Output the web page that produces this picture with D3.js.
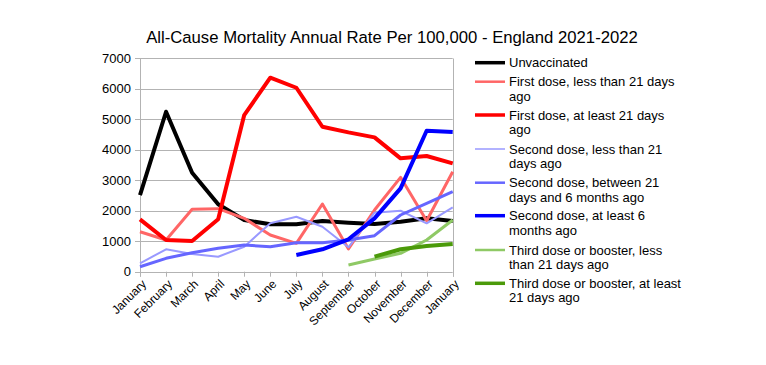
<!DOCTYPE html>
<html>
<head>
<meta charset="utf-8">
<script src="https://cdn.jsdelivr.net/npm/d3@7"></script>
<style>
  body { margin: 0; background: #fff; }
  svg { font-family: "Liberation Sans", Arial, sans-serif; }
</style>
</head>
<body>
<svg id="chart" width="766" height="365"></svg>
<script>
const months = ["January","February","March","April","May","June","July","August","September","October","November","December","January"];
const yTicks = [0,1000,2000,3000,4000,5000,6000,7000];

const unvaccinated   = [2515,5246,3246,2214,1696,1554,1554,1663,1607,1564,1640,1750,1663];
const firstLess21    = [1312,1040,2046,2066,1750,1203,930,2220,745,2023,3095,1673,3280];
const firstAtLeast21 = [1718,1040,1007,1718,5139,6363,6034,4755,4570,4407,3718,3794,3555];
const secondLess21   = [275,735,580,492,820,1587,1804,1476,800,1935,2000,1587,2112];
const secondMid      = [164,439,623,767,875,820,951,951,1040,1181,1860,2243,2624];
const secondAtLeast6 = [null,null,null,null,null,null,548,735,1063,1751,2735,4625,4582];
const thirdLess21    = [null,null,null,null,null,null,null,null,220,417,603,1040,1696];
const thirdAtLeast21 = [null,null,null,null,null,null,null,null,null,492,735,843,908];

const seriesNames = [
  ["Unvaccinated"],
  ["First dose, less than 21 days","ago"],
  ["First dose, at least 21 days","ago"],
  ["Second dose, less than 21","days ago"],
  ["Second dose, between 21","days and 6 months ago"],
  ["Second dose, at least 6","months ago"],
  ["Third dose or booster, less","than 21 days ago"],
  ["Third dose or booster, at least","21 days ago"]
];
const seriesValues = [unvaccinated, firstLess21, firstAtLeast21, secondLess21, secondMid, secondAtLeast6, thirdLess21, thirdAtLeast21];
const seriesColors = ["#000000","#ff6666","#ff0000","#9999ff","#6666ff","#0000ff","#8fc965","#4b9a0a"];
const seriesWidths = [4,3,4,2,3,4,3,4];

const svg = d3.select("#chart");
const pL = 140, pR = 452.7, pT = 58.3, pB = 271.7;

const x = d3.scalePoint().domain(d3.range(months.length)).range([pL, pR]);
const y = d3.scaleLinear().domain([0,7000]).range([pB, pT]);

// title
svg.append("text").attr("x", 392).attr("y", 43).attr("text-anchor","middle")
  .attr("font-size", 16.7).attr("fill","#000")
  .text("All-Cause Mortality Annual Rate Per 100,000 - England 2021-2022");

// gridlines
svg.append("g").selectAll("line").data(yTicks).join("line")
  .attr("x1", pL - 5).attr("x2", pR)
  .attr("y1", d => Math.round(y(d)) + 0.5).attr("y2", d => Math.round(y(d)) + 0.5)
  .attr("stroke", "#b3b3b3").attr("stroke-width", 1);
// left & right vertical lines
[pL, pR].forEach(xx => {
  svg.append("line").attr("x1", Math.round(xx)+0.5).attr("x2", Math.round(xx)+0.5)
    .attr("y1", Math.round(y(7000))+0.5).attr("y2", pB + 5)
    .attr("stroke", "#b3b3b3");
});
// x ticks
svg.append("g").selectAll("line").data(d3.range(months.length)).join("line")
  .attr("x1", d => Math.round(x(d))+0.5).attr("x2", d => Math.round(x(d))+0.5)
  .attr("y1", pB).attr("y2", pB + 5)
  .attr("stroke", "#b3b3b3");

// y labels
svg.append("g").selectAll("text").data(yTicks).join("text")
  .attr("x", pL - 9).attr("y", d => y(d)).attr("dy", "0.35em")
  .attr("text-anchor", "end").attr("font-size", 13).attr("fill", "#000")
  .text(d => d);

// x labels
svg.append("g").selectAll("text").data(months).join("text")
  .attr("transform", (d,i) => `translate(${x(i)+4},${pB + 10}) rotate(-45)`)
  .attr("text-anchor", "end").attr("font-size", 12).attr("fill", "#000")
  .attr("dy", "0.35em")
  .text(d => d);

// lines
const line = d3.line().defined(d => d != null).x((d,i) => x(i)).y(d => y(d));
svg.append("g").selectAll("path").data(seriesValues).join("path")
  .attr("d", d => line(d))
  .attr("fill", "none")
  .attr("stroke", (d,i) => seriesColors[i])
  .attr("stroke-width", (d,i) => seriesWidths[i])
  .attr("stroke-linejoin", "round");

// legend
const legendY = [62.7, 81.7, 115, 149, 182.7, 215.7, 250, 283.3];
const lg = svg.append("g");
seriesNames.forEach((lines, i) => {
  lg.append("line").attr("x1", 475).attr("x2", 505)
    .attr("y1", legendY[i]).attr("y2", legendY[i])
    .attr("stroke", seriesColors[i]).attr("stroke-width", Math.max(seriesWidths[i]-0.5, 1.5));
  const t = lg.append("text").attr("x", 509).attr("y", legendY[i]).attr("font-size", 13).attr("fill", "#000");
  lines.forEach((s, j) => {
    t.append("tspan").attr("x", 509).attr("dy", j === 0 ? "0.35em" : 14.3).text(s);
  });
});
</script>
</body>
</html>
